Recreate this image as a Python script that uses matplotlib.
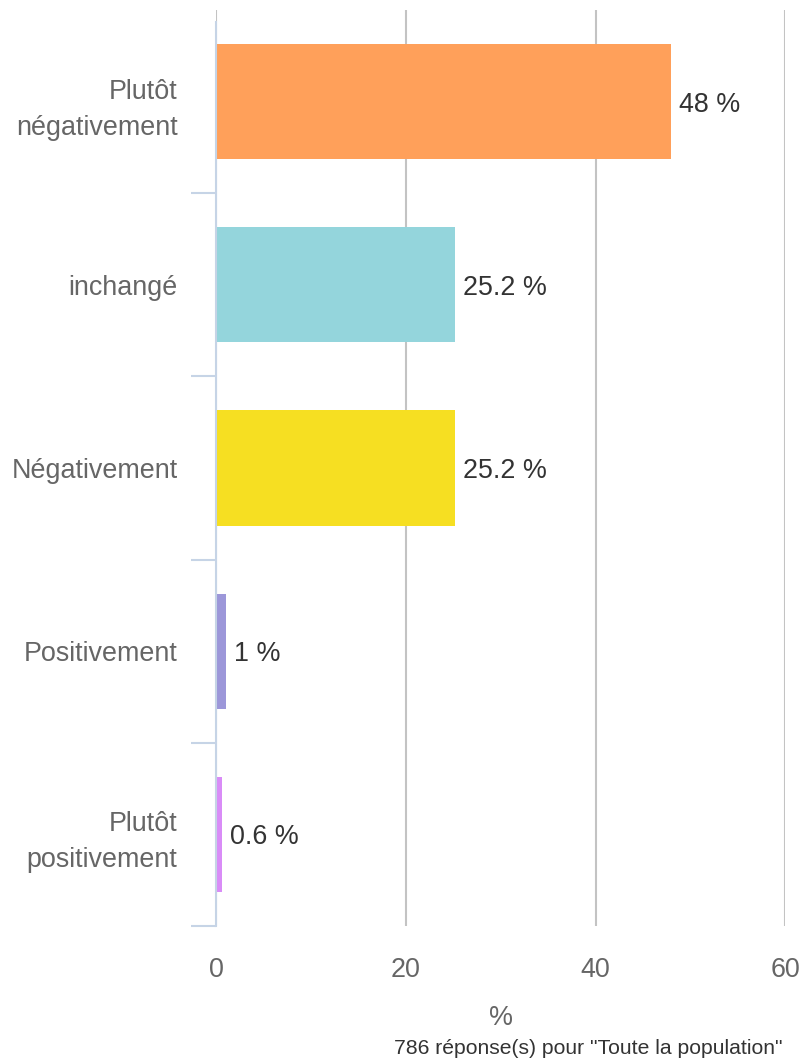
import matplotlib
matplotlib.use("Agg")
import matplotlib.pyplot as plt

categories = ["Plutôt\nnégativement", "inchangé", "Négativement", "Positivement", "Plutôt\npositivement"]
values = [48, 25.2, 25.2, 1, 0.6]
value_labels = ["48 %", "25.2 %", "25.2 %", "1 %", "0.6 %"]
colors = ["#FFA05A", "#94D5DC", "#F6DF22", "#9C97D9", "#D98CF7"]
x_ticks = [0, 20, 40, 60]
x_label = "%"
footnote = '786 réponse(s) pour "Toute la population"'

plt.rcParams['font.family'] = ['Liberation Sans', 'DejaVu Sans']

W, H = 802, 1061
fig = plt.figure(figsize=(W / 100, H / 100), dpi=100)
left, right, top, bottom = 216.5, 785, 10, 926
ax = fig.add_axes([left / W, 1 - bottom / H, (right - left) / W, (bottom - top) / H])

ypos = list(range(len(categories)))
ax.barh(ypos, values, height=0.628, color=colors, zorder=3)
ax.set_xlim(0, 60)
ax.set_ylim(len(categories) - 0.5, -0.5)

FS = 19.4

# data labels
for y, v, lab in zip(ypos, values, value_labels):
    ax.annotate(lab, (v, y), xytext=(8 * 0.72, -3 * 0.72), textcoords="offset points",
                ha="left", va="center", fontsize=FS, color="#333333", zorder=4)

# grid
ax.set_xticks(x_ticks)
ax.xaxis.grid(True, color="#c3c3c3", linewidth=1.5, zorder=1)
ax.set_axisbelow(True)
ax.tick_params(axis="x", length=0, pad=22, labelsize=FS, labelcolor="#666666")

# y axis
ax.set_yticks(ypos)
ax.set_yticklabels(categories, fontsize=FS, color="#666666", linespacing=1.5)
ax.tick_params(axis="y", length=0, pad=28)
minor = [i + 0.5 for i in range(len(categories))]
ax.set_yticks(minor, minor=True)
ax.tick_params(axis="y", which="minor", length=25 * 0.72, width=1.5, color="#c6d4e6")

for s in ["top", "right", "bottom"]:
    ax.spines[s].set_visible(False)
ax.spines["left"].set_color("#c6d4e6")
ax.spines["left"].set_linewidth(1.5)
ax.spines["left"].set_zorder(5)
ax.spines["left"].set_bounds(len(categories) - 0.5, -0.5 + 12 / 183.2)

ax.set_xlabel(x_label, fontsize=FS, color="#666666", labelpad=16)
fig.text(782 / W, 1 - 1048 / H, footnote, ha="right", va="center", fontsize=15.2, color="#333333")

fig.savefig("out.png", dpi=100, facecolor="white")
